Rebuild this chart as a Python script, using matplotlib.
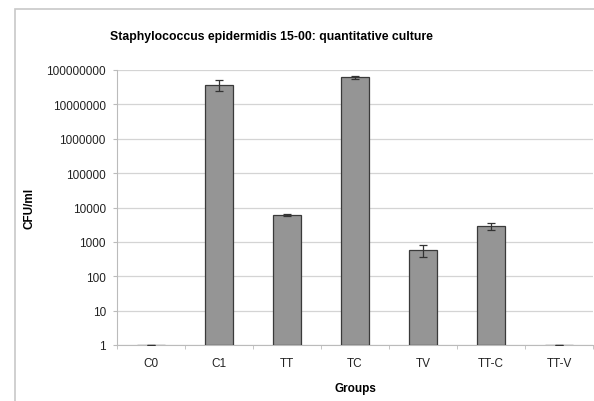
import matplotlib.pyplot as plt
import numpy as np
from matplotlib.patches import Rectangle

groups = ["C0", "C1", "TT", "TC", "TV", "TT-C", "TT-V"]
cfu = [1, 3.6e7, 6000, 6.2e7, 580, 2900, 1]
err_low = [0, 1.2e7, 300, 6e6, 210, 700, 0]
err_high = [0, 1.4e7, 300, 7e6, 220, 600, 0]
yticks = [1, 10, 100, 1000, 10000, 100000, 1000000, 10000000, 100000000]

plt.rcParams["font.family"] = ["Liberation Sans", "DejaVu Sans"]

fig = plt.figure(figsize=(5.94, 4.02), dpi=100)
fig.patches.append(Rectangle((15/594, -0.1), 1.2, 1.1 - 10/402, transform=fig.transFigure,
                             fill=False, edgecolor="#c8c8c8", linewidth=1.2))
ax = fig.add_axes([117/594, 1-346/402, 476/594, 275/402])

x = np.arange(len(groups))
ax.bar(x, np.array(cfu) - 1, bottom=1, width=0.42, color="#959595",
       edgecolor="#3a3a3a", linewidth=0.9, zorder=3)
ax.errorbar(x, cfu, yerr=[err_low, err_high], fmt="none", ecolor="#333333",
            elinewidth=0.9, capsize=3, capthick=0.9, zorder=4)

ax.set_yscale("log")
ax.set_ylim(1, 1e8)
ax.set_xlim(-0.5, len(groups) - 0.5)
ax.set_yticks(yticks)
ax.set_yticklabels([str(v) for v in yticks], fontsize=8.5, color="#222222")
ax.yaxis.set_minor_locator(plt.NullLocator())
ax.set_xticks(x)
ax.set_xticklabels(groups, fontsize=8.5, color="#222222")
ax.set_xticks(np.arange(len(groups) + 1) - 0.5, minor=True)
ax.tick_params(axis="x", which="major", length=0, pad=9)
ax.tick_params(axis="x", which="minor", length=3, color="#bbbbbb", direction="out")
ax.tick_params(axis="y", length=3, color="#bbbbbb", pad=5)
ax.grid(axis="y", color="#d4d4d4", linewidth=0.9, zorder=0)

for s in ["top", "right"]:
    ax.spines[s].set_visible(False)
ax.spines["left"].set_color("#bbbbbb")
ax.spines["bottom"].set_color("#bbbbbb")

ax.set_xlabel("Groups", fontsize=8.5, fontweight="bold", labelpad=9)
ax.set_ylabel("CFU/ml", fontsize=8.5, fontweight="bold")
ax.yaxis.set_label_coords(-0.172, 0.5)
fig.text(271/594, 1-37/402, "Staphylococcus epidermidis 15-00: quantitative culture",
         ha="center", va="center", fontsize=8.8, fontweight="bold")

fig.savefig("out.png", dpi=100)
